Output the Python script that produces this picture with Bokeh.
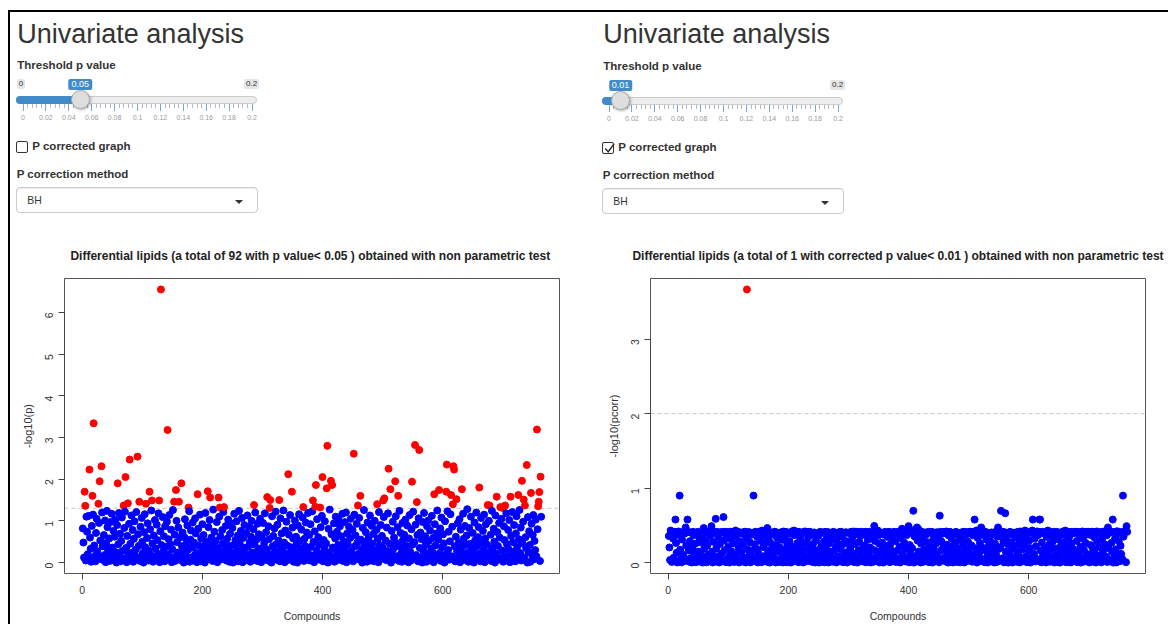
import math
import numpy as np
from bokeh.plotting import figure
from bokeh.models import Range1d, FixedTicker, Span, Div, ColumnDataSource
from bokeh.layouts import row, column
from bokeh.embed import file_html
from bokeh.resources import INLINE

FONT = "Liberation Sans"

# ---------------- data ----------------
# compounds with -log10(p) above the 0.05 threshold (index, value)
red_index = [4, 5, 12, 17, 19, 27, 29, 32, 59, 69, 72, 76, 79, 92, 95, 106, 112, 116, 128, 131,
             142, 153, 156, 161, 165, 177, 192, 209, 213, 227, 229, 236, 286, 308, 312, 313, 328,
             343, 349, 368, 384, 388, 389, 396, 400, 407, 408, 414, 416, 452, 459, 463, 491, 501,
             503, 510, 513, 521, 526, 549, 554, 557, 561, 586, 594, 606, 607, 614, 617, 618, 619,
             623, 632, 661, 675, 678, 690, 696, 700, 704, 713, 726, 732, 735, 737, 740, 747, 757,
             759, 760, 761, 763]
red_value = [1.70, 1.36, 2.23, 1.60, 3.34, 1.41, 1.95, 2.31, 1.90, 1.37, 2.05, 1.42, 2.47, 2.54, 1.46,
             1.41, 1.70, 1.49, 1.49, 6.55, 3.18, 1.46, 1.74, 1.46, 1.90, 1.32, 1.64, 1.71, 1.56, 1.56,
             1.32, 1.33, 1.38, 1.57, 1.31, 1.50, 1.50, 2.12, 1.70, 1.33, 1.49, 1.34, 1.86, 1.32, 2.05,
             1.78, 2.80, 1.96, 1.86, 2.61, 1.37, 1.60, 1.40, 1.49, 1.54, 2.25, 1.76, 1.95, 1.60, 1.94,
             2.82, 1.45, 2.70, 1.64, 1.74, 1.70, 2.35, 1.62, 1.40, 2.31, 2.23, 1.52, 1.76, 1.80, 1.38,
             1.37, 1.58, 1.33, 1.31, 1.37, 1.58, 1.62, 1.96, 1.51, 1.37, 2.34, 1.67, 3.19, 1.35, 1.46,
             1.69, 2.06]
# the remaining compounds, in index order, -log10(p) x 100 (estimated)
blue_value_x100 = [
    82, 48, 12, 5, 110, 74, 20, 9, 112, 60, 33, 2, 88, 115, 41, 16, 3, 71, 105, 27, 8, 95, 53, 14,
    120, 39, 6, 66, 18, 101, 1, 47, 124, 85, 30, 11, 58, 4, 97, 22, 117, 36, 7, 76, 13, 62, 103, 25,
    0, 90, 44, 119, 15, 69, 3, 52, 108, 28, 10, 83, 122, 35, 1, 64, 19, 93, 45, 6, 113, 24, 78, 2,
    57, 99, 17, 31, 121, 9, 68, 40, 4, 86, 14, 107, 50, 23, 0, 73, 116, 37, 11, 59, 94, 5, 29, 80,
    18, 125, 46, 2, 65, 12, 102, 34, 7, 91, 54, 21, 118, 1, 75, 42, 15, 109, 26, 63, 3, 87, 38, 10,
    98, 20, 56, 114, 8, 43, 79, 1, 32, 126, 13, 67, 4, 100, 49, 24, 84, 16, 61, 6, 39, 72, 27, 0,
    61, 104, 19, 45, 9, 89, 30, 123, 2, 55, 77, 12, 36, 96, 5, 48, 17, 106, 70, 23, 1, 81, 41, 14,
    115, 3, 58, 26, 92, 11, 66, 38, 0, 119, 50, 20, 7, 85, 33, 102, 15, 60, 44, 4, 127, 28, 74, 9,
    52, 18, 97, 1, 35, 110, 63, 22, 8, 78, 46, 121, 13, 30, 88, 5, 57, 16, 103, 40, 2, 69, 25, 94,
    11, 83, 0, 42, 117, 19, 54, 7, 99, 31, 65, 3, 124, 47, 14, 76, 27, 107, 1, 59, 36, 90, 10, 21,
    71, 6, 113, 38, 17, 86, 49, 2, 62, 100, 24, 9, 80, 43, 120, 15, 55, 4, 93, 29, 68, 12, 105, 34,
    1, 60, 23, 95, 8, 47, 118, 16, 73, 32, 5, 87, 56, 20, 0, 111, 39, 64, 13, 82, 26, 122, 44, 7,
    91, 18, 53, 3, 106, 35, 70, 11, 28, 125, 48, 1, 77, 15, 98, 41, 6, 67, 22, 114, 37, 9, 84, 58,
    2, 30, 101, 14, 62, 45, 0, 89, 19, 116, 52, 8, 34, 79, 25, 108, 4, 57, 40, 96, 12, 72, 27, 119,
    10, 66, 5, 92, 38, 17, 123, 50, 1, 75, 29, 104, 13, 61, 43, 7, 85, 21, 112, 3, 54, 33, 99, 16,
    46, 0, 81, 24, 127, 9, 68, 36, 15, 94, 2, 58, 110, 31, 74, 6, 42, 102, 19, 87, 11, 63, 26, 117,
    4, 51, 35, 97, 14, 120, 1, 70, 44, 23, 86, 8, 59, 105, 28, 17, 78, 3, 115, 39, 65, 12, 93, 48,
    21, 107, 7, 55, 32, 0, 83, 18, 126, 41, 10, 73, 50, 2, 96, 27, 61, 14, 113, 36, 5, 88, 46, 19,
    69, 3, 100, 30, 13, 79, 57, 1, 121, 42, 24, 90, 9, 64, 37, 109, 16, 53, 6, 84, 28, 118, 11, 45,
    0, 76, 20, 98, 33, 60, 8, 111, 47, 15, 85, 4, 124, 38, 71, 22, 2, 95, 54, 12, 67, 31, 103, 7,
    40, 89, 17, 1, 58, 114, 26, 5, 80, 43, 122, 10, 49, 91, 18, 66, 3, 106, 35, 72, 13, 56, 0, 97,
    29, 119, 9, 63, 44, 2, 87, 21, 101, 52, 14, 77, 6, 34, 112, 25, 59, 1, 92, 41, 16, 70, 125, 8,
    55, 23, 82, 4, 108, 37, 11, 68, 46, 0, 99, 19, 123, 30, 74, 7, 51, 116, 15, 86, 39, 3, 62, 27,
    94, 12, 48, 104, 1, 79, 33, 20, 117, 57, 6, 88, 42, 10, 65, 128, 24, 2, 83, 45, 17, 110, 36, 5,
    71, 28, 0, 96, 53, 14, 120, 39, 8, 61, 85, 22, 3, 107, 47, 13, 76, 31, 115, 1, 58, 92, 18, 43,
    9, 100, 26, 67, 4, 124, 35, 15, 81, 50, 0, 113, 21, 73, 40, 7, 95, 60, 11, 105, 29, 2, 87, 54,
    16, 118, 44, 6, 78, 32, 102, 1, 64, 19, 121, 49, 10, 90, 27, 3, 70, 111, 38, 14, 56, 126, 23, 84,
    5, 46, 98, 12, 61, 35, 0, 109, 25, 75, 42, 2, 93, 18, 66, 114, 8, 52, 30, 103, 15, 80, 4, 110,
]

thresholds = [0.05, 0.01]
corrected = [False, True]
correction_method = "BH"
slider_min, slider_max = 0.0, 0.2
slider_grid_labels = ["0", "0.02", "0.04", "0.06", "0.08", "0.1", "0.12", "0.14", "0.16", "0.18", "0.2"]
x_ticks = [0, 200, 400, 600]
y_ticks_raw = [0, 1, 2, 3, 4, 5, 6]
y_ticks_corr = [0, 1, 2, 3]

# ---------------- assemble series ----------------
red_map = dict(zip(red_index, red_value))
n = len(red_index) + len(blue_value_x100)
vals = []
bi = 0
for i in range(1, n + 1):
    if i in red_map:
        vals.append(red_map[i])
    else:
        vals.append(blue_value_x100[bi] / 100.0)
        bi += 1
logp = np.array(vals)
pvals = 10.0 ** (-logp)

# Benjamini-Hochberg adjustment (as p.adjust(method="BH"))
order = np.argsort(-pvals, kind="stable")
ranks = np.arange(n, 0, -1)
adj_sorted = np.minimum.accumulate(pvals[order] * n / ranks)
padj = np.empty(n)
padj[order] = np.minimum(adj_sorted, 1.0)
logpadj = -np.log10(padj)

UI_H = 216
FIG_H = 396
BORDER_TOP = 50
BORDER_BOTTOM = 47


def manhattan(y, thr, ylabel, title, yticks, width, bl, br):
    m = len(y)
    x = np.arange(1, m + 1)
    ex = 0.04 * (m - 1)
    ey = 0.04 * (y.max() - y.min())
    p = figure(width=width, height=FIG_H,
               x_range=Range1d(1 - ex, m + ex), y_range=Range1d(y.min() - ey, y.max() + ey),
               output_backend="svg", toolbar_location=None,
               min_border_left=bl, min_border_right=br,
               min_border_top=BORDER_TOP, min_border_bottom=BORDER_BOTTOM)
    p.grid.visible = False
    p.outline_line_color = "#555555"
    p.outline_line_width = 1
    p.background_fill_color = "white"
    p.border_fill_color = "white"
    cut = -math.log10(thr)
    cols = ["#FF0000" if v > cut else "#0000FF" for v in y]
    src = ColumnDataSource(dict(x=x, y=y, c=cols))
    p.add_layout(Span(location=cut, dimension="width", line_color="#c8c8c8",
                      line_dash="4 3", line_width=1, level="underlay"))
    p.scatter("x", "y", source=src, size=7, fill_color="c", line_color="c")

    for ax in (p.xaxis[0], p.yaxis[0]):
        ax.axis_line_color = "#444444"
        ax.major_tick_line_color = "#444444"
        ax.major_tick_out = 6
        ax.major_tick_in = 0
        ax.minor_tick_line_color = None
        ax.major_label_text_font = FONT
        ax.major_label_text_font_size = "10.5px"
        ax.major_label_text_color = "#333333"
        ax.axis_label_text_font = FONT
        ax.axis_label_text_font_style = "normal"
        ax.axis_label_text_color = "#333333"
    p.xaxis.ticker = FixedTicker(ticks=x_ticks)
    p.xaxis.bounds = (x_ticks[0], x_ticks[-1])
    p.xaxis.axis_label = "Compounds"
    p.xaxis.axis_label_text_font_size = "10.5px"
    p.xaxis.major_label_standoff = 6
    p.xaxis.axis_label_standoff = 13
    p.yaxis.ticker = FixedTicker(ticks=yticks)
    p.yaxis.bounds = (yticks[0], yticks[-1])
    p.yaxis.axis_label = ylabel
    p.yaxis.axis_label_text_font_size = "11px"
    p.yaxis.major_label_orientation = math.pi / 2
    p.yaxis.major_label_standoff = 9
    p.yaxis.axis_label_standoff = 5

    p.title.text = title
    p.title.align = "center"
    p.title.text_font = FONT
    p.title.text_font_style = "bold"
    p.title.text_font_size = "12px"
    p.title.text_color = "#222222"
    p.title.standoff = 32
    return p


n_sig_raw = int((logp > -math.log10(thresholds[0])).sum())
n_sig_corr = int((logpadj > -math.log10(thresholds[1])).sum())
title_left = (f"Differential lipids (a total of {n_sig_raw} with  p value< {thresholds[0]:g} ) "
              f"obtained with non parametric test")
title_right = (f"Differential lipids (a total of {n_sig_corr} with corrected p value< {thresholds[1]:g} ) "
               f"obtained with non parametric test")

p_left = manhattan(logp, thresholds[0], "-log10(p)", title_left, y_ticks_raw, 580, 54, 31)
p_right = manhattan(logpadj, thresholds[1], "-log10(pcorr)", title_right, y_ticks_corr, 578, 60, 23)

# ---------------- Shiny-like controls (HTML, page coordinates) ----------------
OX, OY = 10.0, 12.0   # page position of the controls block


def text_div(px, baseline, fs, text, weight="normal", color="#333333"):
    top = baseline - 0.8465 * fs - OY
    return (f'<div style="position:absolute;left:{px - OX:.1f}px;top:{top:.1f}px;font-size:{fs}px;'
            f'line-height:{fs}px;font-weight:{weight};color:{color};white-space:nowrap">{text}</div>')


def box(px, py, w, h, css, inner=""):
    return (f'<div style="position:absolute;left:{px - OX:.1f}px;top:{py - OY:.1f}px;width:{w:.1f}px;'
            f'height:{h:.1f}px;{css}">{inner}</div>')


def tag(px, py, css, inner):
    return f'<div style="position:absolute;left:{px - OX:.1f}px;top:{py - OY:.1f}px;{css}">{inner}</div>'


def panel_html(dx, dy, thr, checked):
    parts = []
    parts.append(text_div(17.3 + dx, 44.0, 27, "Univariate analysis"))
    parts.append(text_div(17.3 + dx, 69.5 + dy, 11.5, "Threshold p value", weight="bold"))
    # slider
    g0 = 23.0 + dx
    span = 229.0
    hx = g0 + (thr - slider_min) / (slider_max - slider_min) * span
    cy = 99.5 + dy
    parts.append(box(16 + dx, cy - 4, 241, 8,
                     "box-sizing:border-box;background:#ededed;border:1px solid #cccccc;border-radius:8px"))
    parts.append(box(16 + dx, cy - 4, hx - 16 - dx, 8,
                     "box-sizing:border-box;background:#428bca;border-radius:8px 0 0 8px"))
    for k in range(0, 51):
        tx = g0 + k * span / 50
        if k % 5 == 0:
            parts.append(box(tx - 0.5, 104 + dy, 1, 7, "background:#7aa7d6"))
        else:
            parts.append(box(tx - 0.5, 104 + dy, 1, 4, "background:#b0b8c4"))
    for k, lab in enumerate(slider_grid_labels):
        tx = g0 + k * span / 10
        parts.append(tag(tx - 15, 113.7 + dy,
                         "width:30px;text-align:center;font-size:7px;line-height:8px;color:#9a9a9a", lab))
    parts.append(box(hx - 9.5, cy - 9.5, 19, 19,
                     "box-sizing:border-box;background:#dedede;border:1px solid #aaaaaa;border-radius:50%;"
                     "box-shadow:1px 1px 3px rgba(0,0,0,0.3)"))
    if not checked:
        parts.append(tag(16.7 + dx, 79 + dy,
                         "font-size:8px;line-height:10px;padding:0 2px;background:rgba(0,0,0,0.1);"
                         "border-radius:2px;color:#333", slider_grid_labels[0]))
    parts.append(tag(244 + dx, 79 + dy,
                     "font-size:8px;line-height:10px;padding:0 2px;background:rgba(0,0,0,0.1);"
                     "border-radius:2px;color:#333", slider_grid_labels[-1]))
    parts.append(tag(hx, 78.5 + dy,
                     "transform:translateX(-50%);font-size:9px;line-height:11px;padding:0 3px;"
                     "background:#428bca;border-radius:2px;color:#fff", f"{thr:g}"))
    # checkbox
    mark = ('<svg width="13" height="13" viewBox="0 0 13 13" style="position:absolute;left:0;top:-1px">'
            '<path d="M2.2 6.6 L5.2 9.8 L11.2 1.8" stroke="#333" stroke-width="1.5" fill="none"/></svg>'
            if checked else "")
    parts.append(box(16 + dx, 141 + dy, 12, 12,
                     "box-sizing:border-box;border:1.5px solid #333;border-radius:2px;background:#fff", mark))
    parts.append(text_div(32.3 + dx, 150.5 + dy, 11.5, "P corrected graph", weight="bold"))
    parts.append(text_div(16.7 + dx, 178.5 + dy, 11.5, "P correction method", weight="bold"))
    # select input
    parts.append(box(16 + dx, 186.7 + dy, 241.7, 26.7,
                     "box-sizing:border-box;background:#fff;border:1px solid #cccccc;border-radius:4px;"
                     "box-shadow:inset 0 1px 1px rgba(0,0,0,0.075)"))
    parts.append(text_div(27.3 + dx, 204.7 + dy, 10.4, correction_method))
    parts.append(box(235 + dx, 199.5 + dy, 0, 0,
                     "border-left:4px solid transparent;border-right:4px solid transparent;"
                     "border-top:4.5px solid #333"))
    return "".join(parts)


ui_html = (f'<div style="position:relative;width:1158px;height:{UI_H}px;font-family:\'{FONT}\',Arial,sans-serif;'
           f'background:#fff;overflow:hidden">'
           + panel_html(0, 0, thresholds[0], corrected[0])
           + panel_html(586, 1, thresholds[1], corrected[1])
           + '</div>')

ui = Div(text=ui_html, width=1158, height=UI_H, margin=0)
top_gap = Div(text="", width=1160, height=2, margin=0, styles={"background-color": "#ffffff"})
top_line = Div(text="", width=1160, height=2, margin=0, styles={"background-color": "#000000"})
left_line = Div(text="", width=2, height=UI_H + FIG_H, margin=0, styles={"background-color": "#000000"})

layout = column(top_gap, top_line, row(left_line, column(ui, row(p_left, p_right))), margin=(8, 0, 0, 8))

open("out.html", "w").write(file_html(layout, INLINE))
